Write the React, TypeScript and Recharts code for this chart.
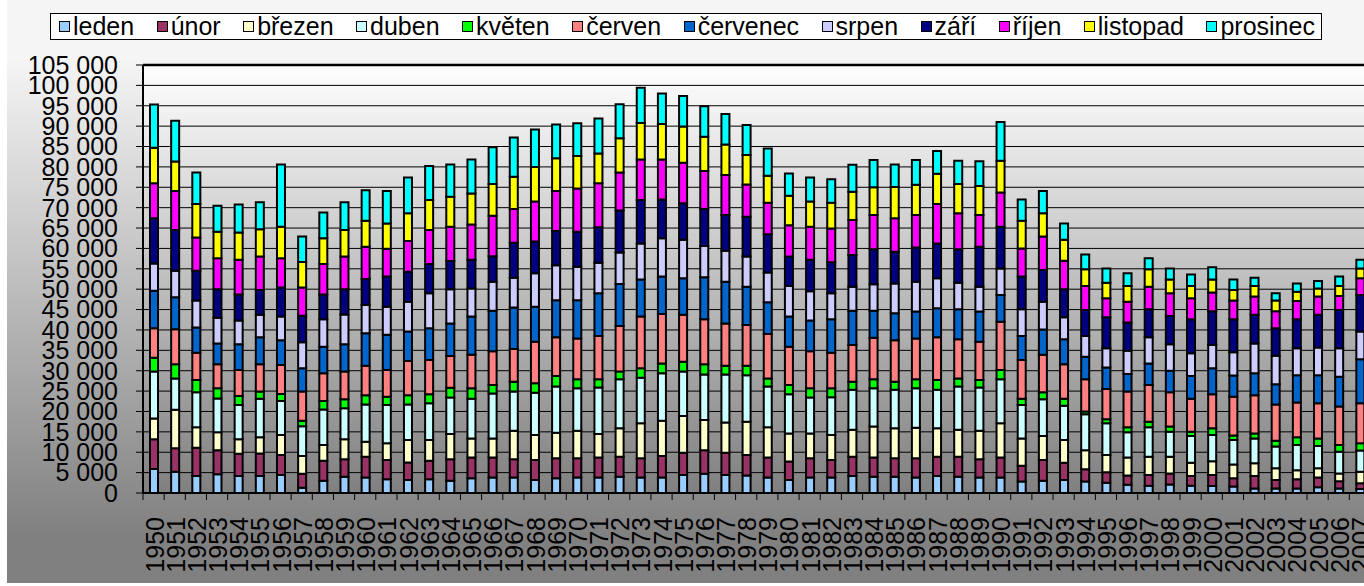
import React from "react";
import { BarChart, Bar, XAxis, YAxis, CartesianGrid, ReferenceLine } from "recharts";

const years = [
  "1950", "1951", "1952", "1953", "1954", "1955", "1956", "1957", "1958", "1959",
  "1960", "1961", "1962", "1963", "1964", "1965", "1966", "1967", "1968", "1969",
  "1970", "1971", "1972", "1973", "1974", "1975", "1976", "1977", "1978", "1979",
  "1980", "1981", "1982", "1983", "1984", "1985", "1986", "1987", "1988", "1989",
  "1990", "1991", "1992", "1993", "1994", "1995", "1996", "1997", "1998", "1999",
  "2000", "2001", "2002", "2003", "2004", "2005", "2006", "2007",
];

const months = ["leden", "únor", "březen", "duben", "květen", "červen", "červenec", "srpen", "září", "říjen", "listopad", "prosinec"];
const monthColors = ["#99ccff", "#993366", "#ffffcc", "#ccffff", "#00ff00", "#ff8080", "#0066cc", "#ccccff", "#000080", "#ff00ff", "#ffff00", "#00ffff"];

const leden = [5900, 5200, 4200, 4600, 4200, 4200, 4400, 1300, 3000, 4000, 3800, 3400, 3200, 3400, 3000, 3600, 3800, 3800, 3200, 3600, 3800, 3800, 4000, 3800, 3800, 4400, 4700, 4400, 4300, 3800, 3200, 3800, 3800, 4200, 4000, 4000, 3800, 4200, 4000, 3800, 3800, 2800, 3000, 3200, 2800, 2500, 2000, 1800, 2100, 1800, 1700, 1600, 1100, 1100, 1100, 1400, 1100, 1000];
const unor = [7300, 5800, 6900, 5900, 5400, 5500, 4900, 3400, 4900, 4300, 5100, 4700, 4300, 4500, 5300, 5100, 4900, 4500, 4900, 4900, 4700, 4900, 4900, 4700, 5300, 5500, 5800, 5500, 5000, 4900, 4500, 4700, 4300, 4700, 4700, 4500, 4700, 4700, 4900, 4500, 4900, 3900, 5100, 4200, 3000, 2600, 2300, 2600, 2700, 2400, 2700, 2000, 3100, 2100, 2300, 2400, 1800, 1400];
const brezen = [5100, 9400, 5000, 4400, 3600, 4000, 4900, 4400, 3900, 4900, 3700, 4100, 5500, 5100, 6200, 4700, 4700, 7000, 6100, 6300, 6800, 5800, 7000, 8600, 8600, 9000, 7400, 7400, 8200, 7400, 6900, 6100, 6100, 6600, 7600, 7400, 7500, 7000, 6600, 7000, 8400, 6700, 5900, 5600, 4700, 4200, 4400, 4500, 4100, 3200, 3400, 3400, 3100, 2900, 2200, 2300, 1900, 2800];
const duben = [11500, 7700, 8600, 8300, 8400, 9400, 8400, 7300, 8700, 7600, 9100, 9400, 8700, 9000, 8900, 9700, 11000, 9600, 10400, 11300, 10400, 11400, 12000, 11200, 11700, 10900, 11200, 11800, 11400, 10000, 9600, 8800, 9300, 9800, 9400, 9400, 9700, 9400, 10600, 10600, 10800, 8200, 9000, 8400, 8800, 7800, 6200, 7200, 6100, 6600, 6400, 6000, 6100, 5300, 6200, 5400, 5300, 5200];
const kveten = [3400, 3500, 3000, 2500, 2200, 1800, 1700, 1300, 2100, 2200, 2300, 2000, 2300, 2200, 2400, 2600, 2100, 2400, 2300, 2600, 2200, 2000, 1900, 2300, 2400, 2400, 2500, 2100, 2300, 2000, 2300, 2300, 2200, 2000, 2200, 2000, 2200, 2400, 2000, 1800, 2300, 1500, 1700, 1700, 700, 1000, 1200, 1400, 1300, 1000, 1700, 1100, 1200, 1400, 1900, 1900, 1700, 1800];
const cerven = [7200, 8600, 6700, 5900, 6400, 6700, 7100, 7200, 6800, 6800, 7200, 6600, 8400, 8400, 7800, 8200, 8300, 8000, 10200, 9500, 10000, 10600, 11200, 12700, 12100, 11500, 11000, 10400, 10000, 10900, 9400, 9100, 8700, 9000, 10200, 10200, 10000, 10500, 9600, 9400, 11800, 9500, 9200, 8500, 7900, 7400, 8800, 9000, 8400, 8100, 8300, 9500, 9400, 8900, 8500, 8600, 9400, 9800];
const cervenec = [9200, 7800, 6200, 5100, 6300, 6600, 6100, 5700, 6500, 6700, 8000, 8600, 7200, 7800, 8000, 9400, 9900, 10200, 8600, 9100, 9400, 10500, 10300, 9100, 9200, 9000, 10300, 10200, 9400, 7800, 7400, 7500, 8200, 8400, 6600, 6600, 6600, 7100, 7400, 7400, 6600, 5900, 6200, 6100, 5500, 5300, 4300, 5300, 5300, 5600, 6400, 5200, 5400, 5000, 6700, 6900, 7300, 10800];
const srpen = [6700, 6500, 6600, 6300, 5800, 5500, 5800, 6400, 6700, 7300, 6900, 6900, 7300, 8600, 8400, 6900, 7100, 7300, 8200, 8600, 8200, 7500, 7700, 8800, 9400, 9400, 7700, 7600, 7400, 7300, 7500, 7200, 6400, 5900, 6500, 7300, 7300, 7400, 6500, 6100, 6500, 6600, 6800, 5400, 5100, 4700, 5700, 6400, 6500, 5600, 5700, 5700, 7300, 7000, 6600, 6800, 7000, 6800];
const zari = [11100, 10000, 7300, 7000, 6400, 6100, 7100, 6500, 6100, 6200, 6400, 7400, 7400, 7200, 6900, 7000, 6300, 8600, 7800, 8400, 8600, 8700, 10300, 10700, 9500, 9000, 9100, 8800, 9800, 9400, 7200, 7700, 7600, 7800, 8600, 7800, 8400, 8500, 8200, 9800, 10200, 8000, 7800, 6900, 6400, 7600, 6900, 6900, 6900, 8300, 8300, 8100, 7000, 6700, 7100, 8000, 9400, 9000];
const rijen = [8600, 9600, 8200, 7600, 8500, 8200, 7200, 6900, 7500, 8000, 7900, 6800, 7500, 8300, 8400, 8700, 9900, 8300, 9800, 9800, 10600, 10800, 9300, 9900, 9800, 9900, 9300, 9800, 7900, 7700, 7700, 8100, 8300, 8600, 8400, 8200, 8000, 9700, 8800, 7800, 8400, 6900, 8200, 7000, 5900, 4700, 5100, 5500, 5600, 5200, 4600, 4600, 4500, 4200, 4500, 4500, 3400, 4100];
const listopad = [8700, 7200, 8200, 6500, 6700, 6700, 7700, 6300, 6300, 6500, 6400, 6200, 6800, 7400, 7400, 7600, 7800, 7900, 8500, 8000, 8000, 7300, 8400, 9000, 8700, 8900, 8400, 7500, 7200, 6600, 7200, 6200, 6300, 6900, 6800, 7700, 7400, 7400, 7200, 7100, 7800, 6800, 5700, 5100, 4100, 3800, 3900, 4300, 3400, 3000, 3200, 2600, 2600, 2600, 2300, 2000, 2500, 2400];
const prosinec = [10600, 10000, 7700, 6400, 6900, 6600, 15300, 6200, 6300, 6800, 7500, 8000, 8800, 8300, 7900, 8300, 9000, 9600, 9200, 8300, 8000, 8600, 8400, 8600, 7500, 7500, 7500, 7500, 7400, 6700, 5500, 5900, 5800, 6600, 6700, 5500, 6100, 5600, 5700, 6100, 9500, 5200, 5500, 4000, 3600, 3500, 3100, 2700, 2700, 2800, 3000, 2600, 2000, 1800, 2000, 1800, 2300, 2100];

const monthSeries = [leden, unor, brezen, duben, kveten, cerven, cervenec, srpen, zari, rijen, listopad, prosinec];

const yTicks = [0, 5000, 10000, 15000, 20000, 25000, 30000, 35000, 40000, 45000, 50000, 55000, 60000, 65000, 70000, 75000, 80000, 85000, 90000, 95000, 100000, 105000];

const data = years.map((year, i) => {
  const row: Record<string, string | number> = { year };
  months.forEach((m, k) => {
    row[m] = monthSeries[k][i];
  });
  return row;
});

// layout (panel coordinates)
const CHART_W = 1380;
const CHART_H = 583;
const MARGIN = { top: 65, right: 16.5, bottom: 0, left: 0 };
const Y_AXIS_W = 136;
const X_AXIS_H = 90;
const PLOT_W = CHART_W - MARGIN.left - MARGIN.right - Y_AXIS_W;
const PLOT_BOTTOM = CHART_H - X_AXIS_H;
const BAND = PLOT_W / years.length;
const FONT = "'Liberation Sans', Arial, sans-serif";

const fmt = (v: number) => String(v).replace(/\B(?=(\d{3})+(?!\d))/g, " ");

const YearTick = (props: any) => {
  const { x, payload } = props;
  return (
    <g>
      <line x1={x - BAND / 2} x2={x - BAND / 2} y1={PLOT_BOTTOM} y2={PLOT_BOTTOM + 7} stroke="#000" strokeWidth={1} />
      <text
        transform={`translate(${x},${PLOT_BOTTOM + 24}) rotate(-90)`}
        textAnchor="end"
        dy={10}
        fontSize={25}
        fontFamily={FONT}
        fill="#000"
      >
        {payload.value}
      </text>
    </g>
  );
};

const Legend = () => (
  <div
    style={{
      position: "absolute",
      left: 50,
      top: 13,
      width: 1272,
      height: 27,
      boxSizing: "border-box",
      border: "1px solid #000",
      background: "#fff",
      display: "flex",
      alignItems: "center",
      justifyContent: "space-between",
      padding: "0 6px 0 8px",
      fontFamily: FONT,
      fontSize: 25,
      lineHeight: "27px",
      zIndex: 2,
    }}
  >
    {months.map((m, k) => (
      <div key={m} style={{ display: "flex", alignItems: "center" }}>
        <span
          style={{
            display: "inline-block",
            width: 9,
            height: 9,
            border: "1.5px solid #000",
            background: monthColors[k],
            marginRight: 3,
          }}
        />
        <span>{m}</span>
      </div>
    ))}
  </div>
);

export default function App() {
  return (
    <div style={{ position: "fixed", left: 0, top: 0, width: 1364, height: 586, overflow: "hidden", background: "#fff" }}>
      <div
        style={{
          position: "absolute",
          left: 7,
          top: 0,
          width: CHART_W,
          height: CHART_H,
          background: "linear-gradient(to bottom, #f5f5f5 0%, #f5f5f5 10%, #808080 92%, #808080 100%)",
        }}
      >
        <div
          style={{
            position: "absolute",
            left: MARGIN.left + Y_AXIS_W,
            top: MARGIN.top,
            width: PLOT_W,
            height: PLOT_BOTTOM - MARGIN.top,
            background: "linear-gradient(to bottom, #ffffff 0%, #808080 100%)",
          }}
        />
        <div style={{ position: "absolute", left: 0, top: 0 }}>
          <BarChart width={CHART_W} height={CHART_H} data={data} margin={MARGIN} barSize={8}>
            <CartesianGrid vertical={false} stroke="#000" strokeWidth={1} />
            <XAxis
              dataKey="year"
              interval={0}
              height={X_AXIS_H}
              tickLine={false}
              axisLine={{ stroke: "#000", strokeWidth: 2 }}
              tick={<YearTick />}
            />
            <YAxis
              width={Y_AXIS_W}
              domain={[0, 105000]}
              ticks={yTicks}
              interval={0}
              tickFormatter={fmt}
              tickSize={7}
              tickMargin={18}
              axisLine={{ stroke: "#000", strokeWidth: 2 }}
              tickLine={{ stroke: "#000", strokeWidth: 1 }}
              tick={{ fill: "#000", fontSize: 25, fontFamily: FONT }}
            />
            <ReferenceLine y={105000} stroke="#000" strokeWidth={2.5} />
            {months.map((m, k) => (
              <Bar
                key={m}
                dataKey={m}
                stackId="a"
                fill={monthColors[k]}
                stroke="#000"
                strokeWidth={2}
                isAnimationActive={false}
              />
            ))}
          </BarChart>
        </div>
      </div>
      <Legend />
    </div>
  );
}
